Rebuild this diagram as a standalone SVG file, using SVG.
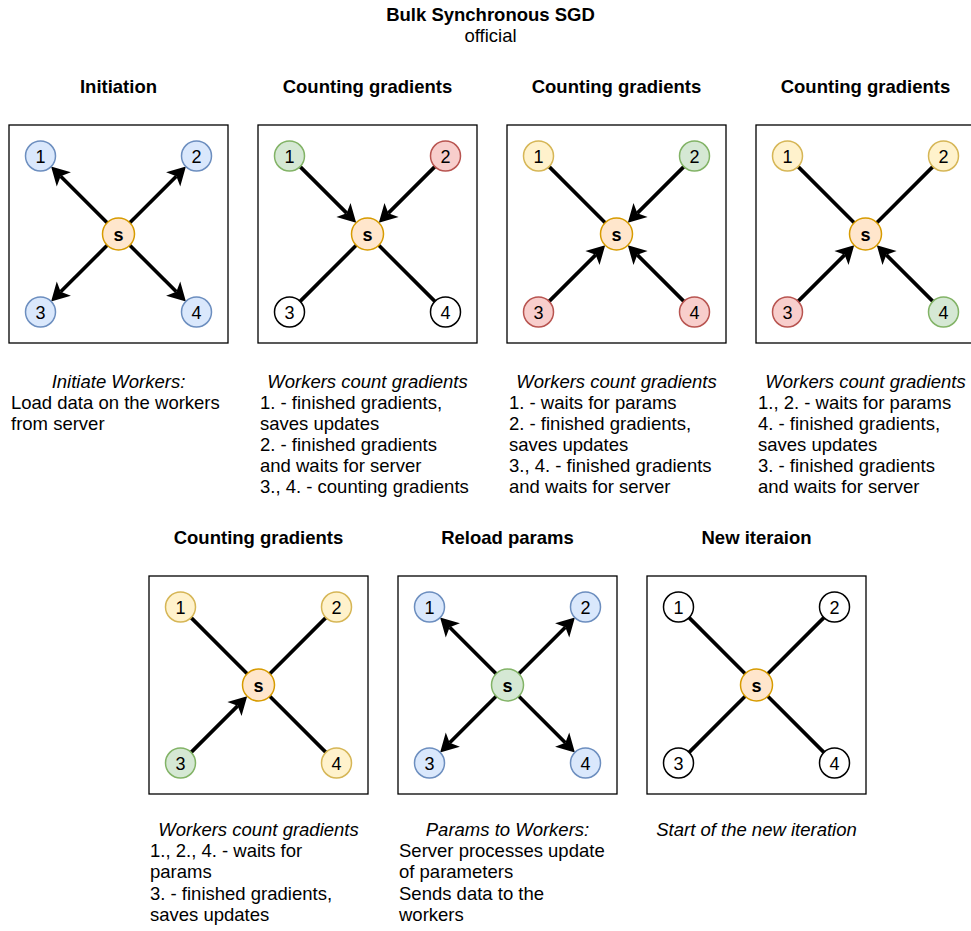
<svg xmlns="http://www.w3.org/2000/svg" width="971" height="931" viewBox="0 0 971 931">
<defs>
<style>
text{font-family:"Liberation Sans",Arial,sans-serif;fill:#000;}
.t{font-size:18.5px;font-weight:bold;text-anchor:middle;}
.sub{font-size:18.5px;text-anchor:middle;}
.d{font-size:18.5px;}
.di{font-size:18.5px;font-style:italic;text-anchor:middle;}
.frame{fill:#fff;stroke:#000;stroke-width:1.3;}
.n{stroke-width:1.5;}
.lbl{font-size:18px;text-anchor:middle;}
.sl{font-size:18px;font-weight:bold;text-anchor:middle;}
.blue{fill:#dae8fc;stroke:#6c8ebf;}
.green{fill:#d5e8d4;stroke:#82b366;}
.red{fill:#f8cecc;stroke:#b85450;}
.yellow{fill:#fff2cc;stroke:#d6b656;}
.orange{fill:#ffe6cc;stroke:#d79b00;}
.white{fill:#fff;stroke:#000;}
.e{stroke:#000;stroke-width:3.6;fill:none;}
.a{marker-end:url(#arr);}
</style>
<marker id="arr" markerUnits="userSpaceOnUse" markerWidth="40" markerHeight="40" viewBox="-20 -20 40 40" refX="0" refY="0" orient="auto">
<path d="M13.5,0 L-4.5,10 L0,0 L-4.5,-10 Z" fill="#000"/>
</marker>
</defs>
<rect x="0" y="0" width="971" height="931" fill="#fff"/>

<g id="titles">
<text class="t" x="490.5" y="21">Bulk Synchronous SGD</text>
<text class="sub" x="490.5" y="42">official</text>
<text class="t" x="118.5" y="93">Initiation</text>
<text class="t" x="367.5" y="93">Counting gradients</text>
<text class="t" x="616.5" y="93">Counting gradients</text>
<text class="t" x="865.5" y="93">Counting gradients</text>
<text class="t" x="258.5" y="544">Counting gradients</text>
<text class="t" x="507.5" y="544">Reload params</text>
<text class="t" x="756.5" y="544">New iteraion</text>
</g>

<g id="frames">
<rect class="frame" x="9" y="125" width="219" height="218"/>
<rect class="frame" x="258" y="125" width="219" height="218"/>
<rect class="frame" x="507" y="125" width="219" height="218"/>
<rect class="frame" x="756" y="125" width="219" height="218"/>
<rect class="frame" x="149" y="576" width="219" height="218"/>
<rect class="frame" x="398" y="576" width="219" height="218"/>
<rect class="frame" x="647" y="576" width="219" height="218"/>
</g>

<g id="connectors">
<!-- panel 1 -->
<line class="e a" x1="107.19" y1="222.69" x2="60.65" y2="176.15"/>
<line class="e a" x1="129.81" y1="222.69" x2="176.35" y2="176.15"/>
<line class="e a" x1="107.19" y1="245.31" x2="60.65" y2="291.85"/>
<line class="e a" x1="129.81" y1="245.31" x2="176.35" y2="291.85"/>
<!-- panel 2 -->
<line class="e a" x1="300.11" y1="166.61" x2="346.64" y2="213.14"/>
<line class="e a" x1="434.89" y1="166.61" x2="388.36" y2="213.14"/>
<line class="e" x1="356.19" y1="245.31" x2="300.11" y2="301.39"/>
<line class="e" x1="378.81" y1="245.31" x2="434.89" y2="301.39"/>
<!-- panel 3 -->
<line class="e" x1="605.19" y1="222.69" x2="549.11" y2="166.61"/>
<line class="e a" x1="683.89" y1="166.61" x2="637.36" y2="213.14"/>
<line class="e a" x1="549.11" y1="301.39" x2="595.64" y2="254.86"/>
<line class="e a" x1="683.89" y1="301.39" x2="637.36" y2="254.86"/>
<!-- panel 4 -->
<line class="e" x1="854.19" y1="222.69" x2="798.11" y2="166.61"/>
<line class="e" x1="876.81" y1="222.69" x2="932.89" y2="166.61"/>
<line class="e a" x1="798.11" y1="301.39" x2="844.64" y2="254.86"/>
<line class="e a" x1="932.89" y1="301.39" x2="886.36" y2="254.86"/>
<!-- panel 5 -->
<line class="e" x1="247.19" y1="673.69" x2="191.11" y2="617.61"/>
<line class="e" x1="269.81" y1="673.69" x2="325.89" y2="617.61"/>
<line class="e a" x1="191.11" y1="752.39" x2="237.64" y2="705.86"/>
<line class="e" x1="269.81" y1="696.31" x2="325.89" y2="752.39"/>
<!-- panel 6 -->
<line class="e a" x1="496.19" y1="673.69" x2="449.65" y2="627.15"/>
<line class="e a" x1="518.81" y1="673.69" x2="565.35" y2="627.15"/>
<line class="e a" x1="496.19" y1="696.31" x2="449.65" y2="742.85"/>
<line class="e a" x1="518.81" y1="696.31" x2="565.35" y2="742.85"/>
<!-- panel 7 -->
<line class="e" x1="745.19" y1="673.69" x2="689.11" y2="617.61"/>
<line class="e" x1="767.81" y1="673.69" x2="823.89" y2="617.61"/>
<line class="e" x1="745.19" y1="696.31" x2="689.11" y2="752.39"/>
<line class="e" x1="767.81" y1="696.31" x2="823.89" y2="752.39"/>
</g>

<!-- Panel 1 nodes -->
<g id="p1-w1"><circle class="n blue" cx="40.5" cy="156" r="15"/><text class="lbl" x="40.5" y="162.5">1</text></g>
<g id="p1-w2"><circle class="n blue" cx="196.5" cy="156" r="15"/><text class="lbl" x="196.5" y="162.5">2</text></g>
<g id="p1-w3"><circle class="n blue" cx="40.5" cy="312" r="15"/><text class="lbl" x="40.5" y="318.5">3</text></g>
<g id="p1-w4"><circle class="n blue" cx="196.5" cy="312" r="15"/><text class="lbl" x="196.5" y="318.5">4</text></g>
<g id="p1-s"><circle class="n orange" cx="118.5" cy="234" r="16"/><text class="sl" x="118.5" y="240.5">s</text></g>

<!-- Panel 2 nodes -->
<g id="p2-w1"><circle class="n green" cx="289.5" cy="156" r="15"/><text class="lbl" x="289.5" y="162.5">1</text></g>
<g id="p2-w2"><circle class="n red" cx="445.5" cy="156" r="15"/><text class="lbl" x="445.5" y="162.5">2</text></g>
<g id="p2-w3"><circle class="n white" cx="289.5" cy="312" r="15"/><text class="lbl" x="289.5" y="318.5">3</text></g>
<g id="p2-w4"><circle class="n white" cx="445.5" cy="312" r="15"/><text class="lbl" x="445.5" y="318.5">4</text></g>
<g id="p2-s"><circle class="n orange" cx="367.5" cy="234" r="16"/><text class="sl" x="367.5" y="240.5">s</text></g>

<!-- Panel 3 nodes -->
<g id="p3-w1"><circle class="n yellow" cx="538.5" cy="156" r="15"/><text class="lbl" x="538.5" y="162.5">1</text></g>
<g id="p3-w2"><circle class="n green" cx="694.5" cy="156" r="15"/><text class="lbl" x="694.5" y="162.5">2</text></g>
<g id="p3-w3"><circle class="n red" cx="538.5" cy="312" r="15"/><text class="lbl" x="538.5" y="318.5">3</text></g>
<g id="p3-w4"><circle class="n red" cx="694.5" cy="312" r="15"/><text class="lbl" x="694.5" y="318.5">4</text></g>
<g id="p3-s"><circle class="n orange" cx="616.5" cy="234" r="16"/><text class="sl" x="616.5" y="240.5">s</text></g>

<!-- Panel 4 nodes -->
<g id="p4-w1"><circle class="n yellow" cx="787.5" cy="156" r="15"/><text class="lbl" x="787.5" y="162.5">1</text></g>
<g id="p4-w2"><circle class="n yellow" cx="943.5" cy="156" r="15"/><text class="lbl" x="943.5" y="162.5">2</text></g>
<g id="p4-w3"><circle class="n red" cx="787.5" cy="312" r="15"/><text class="lbl" x="787.5" y="318.5">3</text></g>
<g id="p4-w4"><circle class="n green" cx="943.5" cy="312" r="15"/><text class="lbl" x="943.5" y="318.5">4</text></g>
<g id="p4-s"><circle class="n orange" cx="865.5" cy="234" r="16"/><text class="sl" x="865.5" y="240.5">s</text></g>

<!-- Panel 5 nodes -->
<g id="p5-w1"><circle class="n yellow" cx="180.5" cy="607" r="15"/><text class="lbl" x="180.5" y="613.5">1</text></g>
<g id="p5-w2"><circle class="n yellow" cx="336.5" cy="607" r="15"/><text class="lbl" x="336.5" y="613.5">2</text></g>
<g id="p5-w3"><circle class="n green" cx="180.5" cy="763" r="15"/><text class="lbl" x="180.5" y="769.5">3</text></g>
<g id="p5-w4"><circle class="n yellow" cx="336.5" cy="763" r="15"/><text class="lbl" x="336.5" y="769.5">4</text></g>
<g id="p5-s"><circle class="n orange" cx="258.5" cy="685" r="16"/><text class="sl" x="258.5" y="691.5">s</text></g>

<!-- Panel 6 nodes -->
<g id="p6-w1"><circle class="n blue" cx="429.5" cy="607" r="15"/><text class="lbl" x="429.5" y="613.5">1</text></g>
<g id="p6-w2"><circle class="n blue" cx="585.5" cy="607" r="15"/><text class="lbl" x="585.5" y="613.5">2</text></g>
<g id="p6-w3"><circle class="n blue" cx="429.5" cy="763" r="15"/><text class="lbl" x="429.5" y="769.5">3</text></g>
<g id="p6-w4"><circle class="n blue" cx="585.5" cy="763" r="15"/><text class="lbl" x="585.5" y="769.5">4</text></g>
<g id="p6-s"><circle class="n green" cx="507.5" cy="685" r="16"/><text class="sl" x="507.5" y="691.5">s</text></g>

<!-- Panel 7 nodes -->
<g id="p7-w1"><circle class="n white" cx="678.5" cy="607" r="15"/><text class="lbl" x="678.5" y="613.5">1</text></g>
<g id="p7-w2"><circle class="n white" cx="834.5" cy="607" r="15"/><text class="lbl" x="834.5" y="613.5">2</text></g>
<g id="p7-w3"><circle class="n white" cx="678.5" cy="763" r="15"/><text class="lbl" x="678.5" y="769.5">3</text></g>
<g id="p7-w4"><circle class="n white" cx="834.5" cy="763" r="15"/><text class="lbl" x="834.5" y="769.5">4</text></g>
<g id="p7-s"><circle class="n orange" cx="756.5" cy="685" r="16"/><text class="sl" x="756.5" y="691.5">s</text></g>

<g id="descriptions">
<text class="di" x="118.5" y="388">Initiate Workers:</text>
<text class="d" x="11" y="409">Load data on the workers</text>
<text class="d" x="11" y="430">from server</text>

<text class="di" x="367.5" y="388">Workers count gradients</text>
<text class="d" x="260" y="409">1. - finished gradients,</text>
<text class="d" x="260" y="430">saves updates</text>
<text class="d" x="260" y="451">2. - finished gradients</text>
<text class="d" x="260" y="472">and waits for server</text>
<text class="d" x="260" y="493">3., 4. - counting gradients</text>

<text class="di" x="616.5" y="388">Workers count gradients</text>
<text class="d" x="509" y="409">1. - waits for params</text>
<text class="d" x="509" y="430">2. - finished gradients,</text>
<text class="d" x="509" y="451">saves updates</text>
<text class="d" x="509" y="472">3., 4. - finished gradients</text>
<text class="d" x="509" y="493">and waits for server</text>

<text class="di" x="865.5" y="388">Workers count gradients</text>
<text class="d" x="758" y="409">1., 2. - waits for params</text>
<text class="d" x="758" y="430">4. - finished gradients,</text>
<text class="d" x="758" y="451">saves updates</text>
<text class="d" x="758" y="472">3. - finished gradients</text>
<text class="d" x="758" y="493">and waits for server</text>

<text class="di" x="258.5" y="836">Workers count gradients</text>
<text class="d" x="150" y="857">1., 2., 4. - waits for</text>
<text class="d" x="150" y="878">params</text>
<text class="d" x="150" y="900">3. - finished gradients,</text>
<text class="d" x="150" y="921">saves updates</text>

<text class="di" x="507.5" y="836">Params to Workers:</text>
<text class="d" x="399" y="857">Server processes update</text>
<text class="d" x="399" y="878">of parameters</text>
<text class="d" x="399" y="900">Sends data to the</text>
<text class="d" x="399" y="921">workers</text>

<text class="di" x="756.5" y="836">Start of the new iteration</text>
</g>
</svg>
